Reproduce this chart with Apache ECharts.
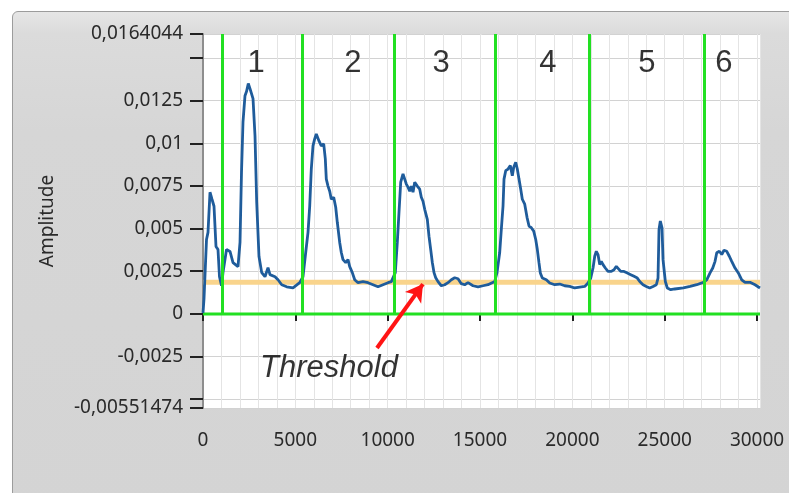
<!DOCTYPE html>
<html><head><meta charset="utf-8">
<script src="https://cdn.jsdelivr.net/npm/echarts@6/dist/echarts.min.js"></script>
<style>
html,body{margin:0;padding:0;background:#fff;width:789px;height:493px;overflow:hidden}
#panel{position:absolute;left:12px;top:11px;width:800px;height:500px;border:1px solid #9c9c9c;border-radius:6px;background:linear-gradient(#e6e6e6 0px,#dbdbdb 22px,#d6d6d6 120px,#d4d4d4 100%);}
#chart{position:absolute;left:0;top:0;width:789px;height:493px}
</style></head><body>
<div id="panel"></div><div id="chart"></div>
<script>
// ---- data ----
const sampleIdx = [0,54,135,190,271,379,487,596,704,812,893,1002,1083,1273,1462,1625,1895,2004,2085,2166,2274,2356,2453,2545,2637,2708,2816,2908,3032,3179,3357,3520,3628,3899,4061,4262,4532,4874,
5236,5415,5561,5686,5778,5864,5956,6048,6135,6281,6406,6536,6623,6677,6769,6861,6947,7077,7186,7272,7402,7489,7581,7727,7852,7944,8085,8215,8393,8664,8935,9206,9476,9747,10018,10197,
10289,10413,10521,10613,10706,10830,10922,11009,11101,11193,11280,11372,11464,11604,11734,11821,11913,12005,12146,12238,12330,12417,12509,12601,12725,12904,13088,13267,13446,13630,13808,13987,14171,14350,14621,14891,15162,15433,
15525,15796,15920,16066,16153,16245,16299,16391,16516,16640,16749,16824,16933,17019,17111,17204,17290,17420,17545,17653,17778,17907,18016,18103,18194,18265,18373,18590,18774,19045,19316,19586,19857,20128,20399,
20669,20848,20994,21119,21211,21297,21389,21481,21568,21660,21785,21930,22023,22109,22256,22380,22472,22619,22797,22976,23160,23339,23518,23648,23826,24005,24189,24368,24546,24638,24692,24763,24855,24909,24963,25034,25142,25326,25543,
25651,26009,26371,26734,27092,27276,27455,27601,27726,27818,27959,28088,28212,28359,28499,28629,28808,28987,29171,29349,29620,29891,30160];
const amplitude = [0.00006,0.00088,0.00094,0.00436,0.00478,0.00713,0.00672,0.00631,0.00395,0.00377,0.00218,0.00165,0.00242,0.00377,0.00366,0.00301,0.00277,0.00419,0.00831,0.01126,0.01279,0.01303,0.0135,0.0132,0.01309,0.01262,0.01044,0.00654,0.00336,0.00242,0.00218,0.00271,0.0023,0.00218,0.002,0.00171,0.00159,0.00153,
0.00183,0.00218,0.0036,0.00478,0.00631,0.00849,0.00985,0.01026,0.01055,0.01014,0.00985,0.00996,0.00908,0.0079,0.00749,0.00719,0.00672,0.00684,0.00625,0.00537,0.00419,0.0036,0.00318,0.00301,0.00318,0.00277,0.00242,0.002,0.00183,0.00189,0.00183,0.00171,0.00159,0.00171,0.00183,0.00189,
0.0019,0.00242,0.00419,0.00596,0.00772,0.0082,0.0079,0.00761,0.00743,0.00719,0.00749,0.00713,0.00772,0.00749,0.00731,0.00684,0.0066,0.00613,0.00554,0.00454,0.00377,0.00301,0.00242,0.00212,0.00189,0.00165,0.00171,0.00183,0.002,0.00212,0.00206,0.00177,0.00171,0.00183,0.00165,0.00159,0.00165,0.00171,
0.00181,0.0019,0.00242,0.0036,0.00495,0.00631,0.0079,0.00839,0.00849,0.00869,0.0081,0.00859,0.00889,0.00849,0.0079,0.00731,0.00672,0.00643,0.00566,0.00515,0.00505,0.00485,0.00436,0.00377,0.00299,0.0024,0.0021,0.002,0.00181,0.00171,0.00175,0.00165,0.00161,0.00152,0.00157,
0.00161,0.00181,0.0021,0.00269,0.00338,0.00367,0.00348,0.00289,0.00308,0.00289,0.00269,0.00249,0.0024,0.00249,0.00259,0.00279,0.00269,0.00249,0.00249,0.0024,0.0023,0.0022,0.0021,0.0019,0.00171,0.00161,0.00152,0.00161,0.00171,0.0021,0.00495,0.00544,0.00505,0.00318,0.00308,0.0019,0.00152,0.00142,0.00146,
0.00146,0.00152,0.00161,0.00171,0.00185,0.002,0.0024,0.00269,0.00308,0.00358,0.00367,0.00348,0.00373,0.00367,0.00338,0.00308,0.00269,0.0024,0.002,0.00185,0.00185,0.00171,0.00152];

const segmentBounds = [1050, 5350, 10380, 15810, 20920, 27150];
const segmentLabels = ['1','2','3','4','5','6'];
const segmentLabelX = [2870, 8120, 12890, 18680, 24040, 28210];
const segmentLabelY = 0.0147;
const thresholdValue = 0.00185;
const thresholdText = 'Threshold';
const thresholdTextPos = [6820, -0.00317];
const arrowFrom = [9420, -0.0020];
const arrowTo = [11910, 0.00175];

const xMin = 0, xMax = 30160;
const yMin = -0.00551474, yMax = 0.0164044;
const xTickValues = [0, 5000, 10000, 15000, 20000, 25000, 30000];
const xTickLabels = ['0', '5000', '10000', '15000', '20000', '25000', '30000'];
const yLabelValues = [-0.00551474, -0.0025, 0, 0.0025, 0.005, 0.0075, 0.01, 0.0125, 0.0164044];
const yLabelTexts = ['-0,00551474', '-0,0025', '0', '0,0025', '0,005', '0,0075', '0,01', '0,0125', '0,0164044'];
const yTickValues = [-0.00551474, -0.005, -0.0025, 0, 0.0025, 0.005, 0.0075, 0.01, 0.0125, 0.015, 0.0164044];
const yAxisName = 'Amplitude';

// ---- chart ----
const chart = echarts.init(document.getElementById('chart'), null, {renderer: 'canvas'});
const axisFont = 'Noto Sans';
const findText = (vals, texts, v) => {
  const i = vals.findIndex(x => Math.abs(x - v) < 1e-10);
  return i >= 0 ? texts[i] : '';
};

const option = {
  animation: false,
  backgroundColor: 'transparent',
  grid: {
    left: 203, top: 34, right: 29, bottom: 85,
    show: true, backgroundColor: '#ffffff', borderWidth: 0,
    outerBoundsMode: 'none', containLabel: false
  },
  xAxis: [{
    type: 'value', min: xMin, max: xMax, interval: 5000, offset: 7,
    axisLine: {show: false},
    axisTick: {show: true, length: 7, customValues: xTickValues, lineStyle: {color: '#222', width: 2}},
    axisLabel: {show: true, customValues: xTickValues, margin: 16, color: '#2a2a2a', fontSize: 19, fontFamily: axisFont,
      formatter: v => findText(xTickValues, xTickLabels, v)},
    splitLine: {show: true, lineStyle: {color: '#d2d2d2', width: 1}}
  }, {
    type: 'value', min: xMin, max: xMax, interval: 1000, position: 'bottom',
    axisLine: {show: false}, axisTick: {show: false}, axisLabel: {show: false},
    splitLine: {show: true, lineStyle: {color: '#e4e4e4', width: 1}}
  }],
  yAxis: [{
    type: 'value', min: yMin, max: yMax,
    name: yAxisName, nameLocation: 'middle', nameGap: 146, nameRotate: 90,
    nameTextStyle: {color: '#2a2a2a', fontSize: 19, fontFamily: axisFont},
    axisLine: {show: true, lineStyle: {color: '#8e8e8e', width: 2}},
    axisTick: {show: true, length: 13, customValues: yTickValues, lineStyle: {color: '#222', width: 2}},
    axisLabel: {show: true, customValues: yLabelValues, margin: 20, color: '#2a2a2a', fontSize: 19, fontFamily: axisFont,
      formatter: v => findText(yLabelValues, yLabelTexts, v)},
    splitLine: {show: true, lineStyle: {color: '#d2d2d2', width: 1}}
  }],
  series: [
    {
      name: 'threshold', type: 'line', xAxisIndex: 0, yAxisIndex: 0, z: 2,
      data: [[xMin, thresholdValue], [xMax, thresholdValue]],
      symbol: 'none', silent: true,
      lineStyle: {color: '#f9d48c', width: 5}
    },
    {
      name: 'segments', type: 'line', xAxisIndex: 0, yAxisIndex: 0, z: 3,
      data: [[xMin, 0], [xMax, 0]],
      symbol: 'none', silent: true,
      lineStyle: {color: '#22e022', width: 3},
      markLine: {
        silent: true, symbol: ['none', 'none'], animation: false,
        label: {show: false},
        lineStyle: {color: '#22e022', width: 3, type: 'solid'},
        emphasis: {disabled: true},
        data: segmentBounds.map(b => [{coord: [b, 0]}, {coord: [b, yMax]}])
      }
    },
    {
      name: 'Amplitude', type: 'line', xAxisIndex: 0, yAxisIndex: 0, z: 4,
      data: sampleIdx.map((x, i) => [x, amplitude[i]]),
      symbol: 'none', silent: true,
      lineStyle: {color: '#1f5c9b', width: 2.8}
    },
    {
      name: 'annotations', type: 'scatter', xAxisIndex: 0, yAxisIndex: 0, z: 6,
      symbolSize: 0, silent: true,
      data: segmentLabelX.map((x, i) => ({
        value: [x, segmentLabelY],
        label: {show: true, position: 'inside', formatter: segmentLabels[i], color: '#000', fontSize: 31, fontFamily: 'Liberation Sans'}
      })).concat([{
        value: thresholdTextPos,
        label: {show: true, position: 'inside', formatter: thresholdText, color: '#000', fontSize: 31, fontStyle: 'italic', fontFamily: 'Liberation Sans'}
      }]),
      markLine: {
        silent: true, symbol: ['none', 'arrow'], symbolSize: [15, 17], animation: false,
        label: {show: false},
        lineStyle: {color: '#ff1414', width: 4, type: 'solid'},
        emphasis: {disabled: true},
        data: [[{coord: arrowFrom}, {coord: arrowTo}]]
      }
    }
  ]
};
chart.setOption(option);
</script></body></html>
